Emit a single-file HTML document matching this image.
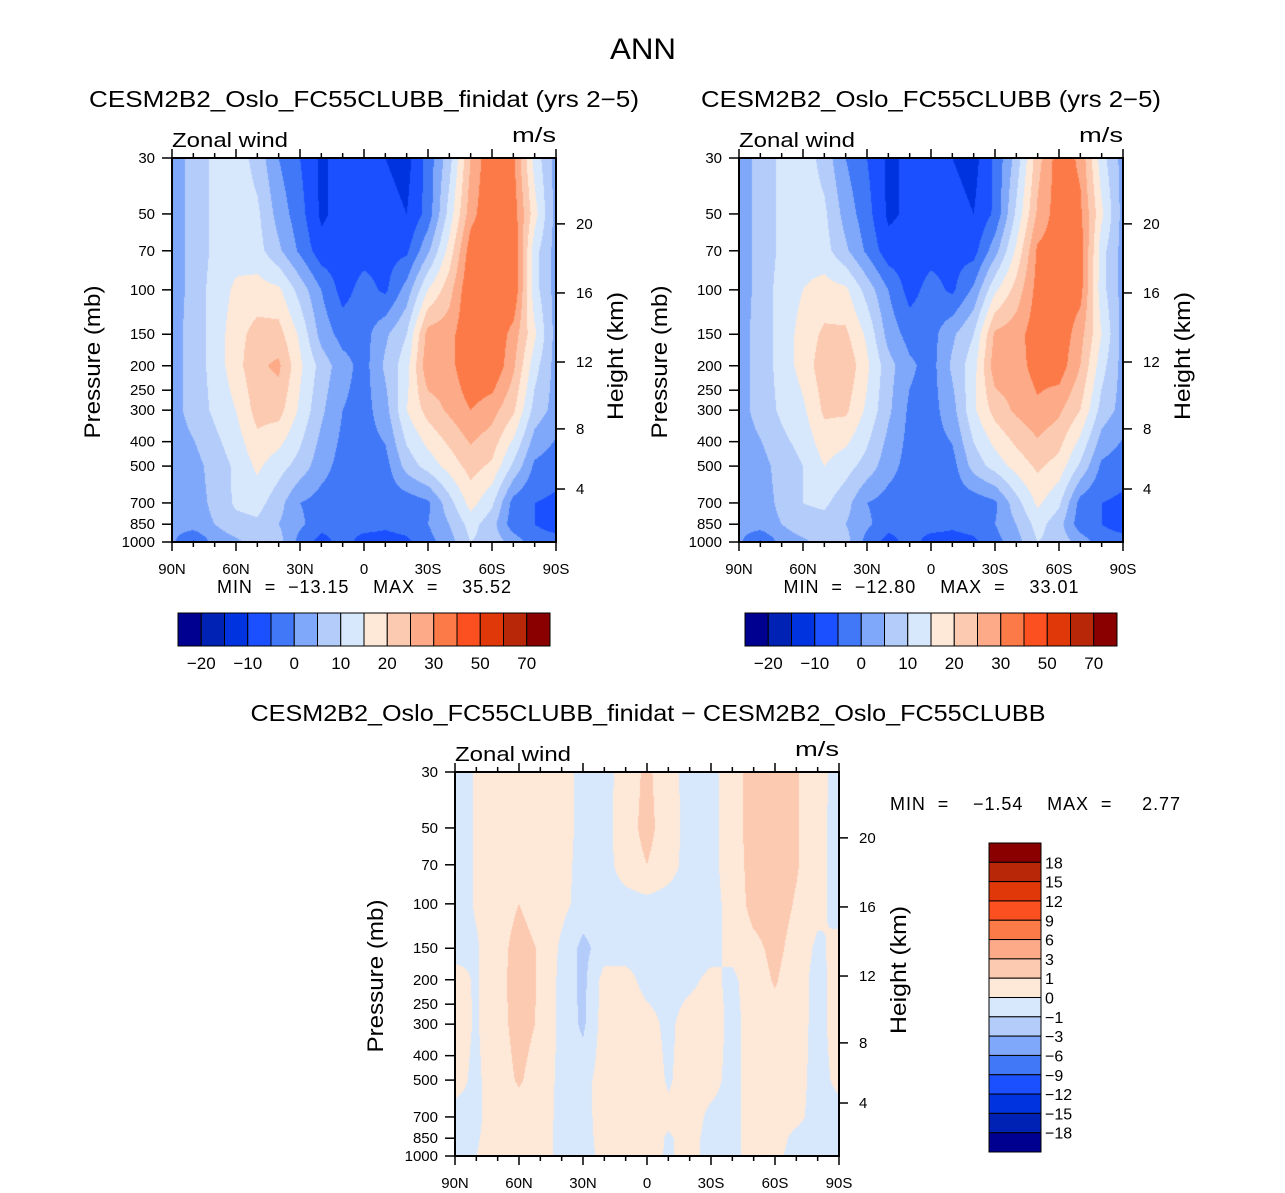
<!DOCTYPE html>
<html><head><meta charset="utf-8">
<style>
body{margin:0;background:#fff;width:1285px;height:1193px;position:relative;overflow:hidden;font-family:"Liberation Sans",sans-serif}
canvas{position:absolute}
svg{position:absolute;left:0;top:0}
text{font-family:"Liberation Sans",sans-serif;fill:#000}
</style></head><body>
<canvas id="c1" width="384" height="384" style="left:172px;top:158px"></canvas>
<canvas id="c2" width="384" height="384" style="left:739px;top:158px"></canvas>
<canvas id="c3" width="384" height="384" style="left:455px;top:772px"></canvas>
<svg id="s" width="1285" height="1193"></svg>
<script>
const pressures=[30,50,70,100,150,200,300,500,700,850,1000];
const latLabels=["90N","60N","30N","0","30S","60S","90S"];
const pLabels=[30,50,70,100,150,200,250,300,400,500,700,850,1000];
const kmLabels=[4,8,12,16,20];
const levelsAbs=[-20,-15,-10,-5,0,5,10,15,20,25,30,40,50,60,70];
const levelsDiff=[-18,-15,-12,-9,-6,-3,-1,0,1,3,6,9,12,15,18];
const colors=['#000090','#0022b4','#0033e0','#1a50ff','#4078f8','#80a8fa','#b4ccfa','#d8e8fc','#fee8d8','#fccab0','#fcaa88','#fc7a48','#fc5020','#e03808','#b82808','#8a0000'];
const gridA=[
[2,7,11,13,8,0,-5,-11,-8,-8,-10,-12,-3,8,25,35,31,13,3],
[2,7,11,13,11,3,-3,-11,-8,-7,-8,-10,-3,12,28,35,33,17,3],
[2,7,11,13,12,6,-1,-8,-8,-7,-7,-6,4,17,33,35,35,12,3],
[2,7,12,16,17,16,8,0,-7,-3,-6,2,15,23,35,35,35,12,3],
[3,7,12,18,22,22,14,3,-2,-2,4,10,27,28,35,35,28,16,3],
[3,7,12,18,24,26,16,8,2,-2,6,13,29,28,35,35,26,12,3],
[3,7,11,15,22,22,14,6,0,-2,3,15,22,26,30,27,21,8,3],
[2,3,7,11,16,12,8,2,-2,-2,-2,7,12,17,22,19,9,-1,-3],
[2,3,6,11,12,7,0,-2,-3,-3,-3,-3,-1,8,17,11,-2,-5,-6],
[2,3,5,8,9,5,1,-3,-4,-3,-4,-3,0,5,12,7,-3,-5,-7],
[1,-6,2,4,7,7,-2,-7,-3,-7,-7,-6,-2,3,10,8,3,-3,-3]];
const gridB=[
[2,7,11,13,8,0,-5,-11,-9,-8,-10,-12,-4,7,23,33,29,12,3],
[2,7,11,13,11,3,-3,-11,-9,-7,-8,-10,-4,11,26,33,31,16,3],
[2,7,11,13,12,6,-1,-8,-8,-7,-7,-7,3,16,31,33,33,12,3],
[2,7,12,15,17,16,8,0,-7,-3,-6,1,14,22,32,34,32,12,3],
[3,7,12,17,21,21,14,3,-2,-2,4,10,26,28,33,34,27,15,3],
[3,7,12,17,23,24,16,7,1,-2,6,13,28,28,32,33,25,12,3],
[3,7,11,14,21,21,14,6,-1,-2,3,14,22,26,29,26,20,8,3],
[2,3,7,10,15,12,8,2,-2,-2,-2,7,12,17,21,18,9,-1,-3],
[2,3,6,10,11,7,0,-2,-3,-3,-3,-3,-1,8,16,11,-2,-5,-6],
[2,3,5,8,8,5,1,-3,-4,-3,-4,-3,0,5,12,7,-3,-5,-7],
[1,-6,2,4,7,7,-2,-7,-3,-7,-7,-6,-2,3,10,8,3,-3,-3]];
const gridD=[
[-0.5,0.1,0.5,0.5,0.5,0.4,-0.3,-0.4,0.5,1.2,0.4,-0.4,-0.3,0.5,1.5,1.6,1.1,0.4,-0.4],
[-0.5,0.1,0.5,0.5,0.5,0.4,-0.3,-0.4,0.6,1.3,0.5,-0.4,-0.3,0.5,1.5,1.6,1.1,0.3,-0.4],
[-0.5,0.1,0.5,0.5,0.5,0.3,-0.3,-0.4,0.5,1.0,0.4,-0.4,-0.3,0.5,1.4,1.5,1.1,0.3,-0.4],
[-0.5,0.1,0.5,1.0,0.5,0.3,-0.4,-0.5,-0.4,-0.3,-0.4,-0.4,-0.3,0.3,1.4,1.5,0.9,0.3,-0.4],
[-0.3,-0.1,0.6,1.4,0.9,-0.2,-1.3,-0.5,-0.4,-0.3,-0.4,-0.4,-0.3,0.3,0.7,1.3,0.6,-0.2,0.3],
[0.3,-0.1,0.7,1.4,0.9,-0.3,-1.3,0.4,0.3,-0.3,-0.3,-0.2,0.2,-0.2,0.5,1.1,0.4,-0.3,0.4],
[0.4,-0.1,0.7,1.3,0.9,-0.3,-1.2,0.5,0.6,0.3,-0.2,0.4,0.5,-0.3,0.4,0.6,0.4,-0.3,0.4],
[0.3,-0.2,0.6,1.1,0.6,-0.3,-0.4,0.5,0.6,0.5,-0.1,0.4,0.3,-0.3,0.4,0.6,0.3,-0.3,0.2],
[-0.3,-0.2,0.5,0.6,0.5,-0.3,-0.4,0.5,0.6,0.4,0.2,0.4,-0.2,-0.3,0.4,0.4,0.2,-0.3,-0.3],
[-0.4,-0.1,0.5,0.6,0.4,-0.3,-0.4,0.4,0.5,0.4,-0.1,0.3,-0.3,-0.3,0.4,0.3,-0.2,-0.4,-0.4],
[-0.4,0.0,0.5,0.5,0.4,-0.3,-0.4,0.3,0.5,0.3,-0.1,0.3,-0.3,-0.3,0.4,0.2,-0.3,-0.4,-0.4]];

const W=384,H=384;
function yOfP(p){return H*Math.log(p/30)/Math.log(1000/30);}
function pOfKm(z){return z<=11?1013.25*Math.pow(1-2.2558e-5*z*1000,5.2559):226.32*Math.exp(-(z-11)*1000/6341.6);}
function hex(c){return [parseInt(c.substr(1,2),16),parseInt(c.substr(3,2),16),parseInt(c.substr(5,2),16)];}
const rgb=colors.map(hex);
function fill(id,grid,levels){
  const cv=document.getElementById(id),ctx=cv.getContext('2d');
  const img=ctx.createImageData(W,H);
  const ry=pressures.map(yOfP);const nc=grid[0].length;
  for(let y=0;y<H;y++){
    let r=0;while(r<ry.length-2&&y+0.5>ry[r+1])r++;
    const fy=Math.min(1,Math.max(0,(y+0.5-ry[r])/(ry[r+1]-ry[r])));
    for(let x=0;x<W;x++){
      const gx=(x+0.5)/W*(nc-1);let c=Math.min(nc-2,Math.floor(gx));const fx=gx-c;
      const v=(grid[r][c]*(1-fx)+grid[r][c+1]*fx)*(1-fy)+(grid[r+1][c]*(1-fx)+grid[r+1][c+1]*fx)*fy;
      let k=0;while(k<levels.length&&v>=levels[k])k++;
      const col=rgb[k],o=(y*W+x)*4;
      img.data[o]=col[0];img.data[o+1]=col[1];img.data[o+2]=col[2];img.data[o+3]=255;
    }
  }
  ctx.putImageData(img,0,0);
}
fill('c1',gridA,levelsAbs);fill('c2',gridB,levelsAbs);fill('c3',gridD,levelsDiff);

const S=document.getElementById('s');const NS='http://www.w3.org/2000/svg';
function el(tag,attrs,txt){const e=document.createElementNS(NS,tag);for(const k in attrs)e.setAttribute(k,attrs[k]);if(txt!==undefined)e.textContent=txt;S.appendChild(e);return e;}
function T(x,y,s,t,anchor,name,extra,len){const a=Object.assign({x:x,y:y,'font-size':s,'text-anchor':anchor||'middle'},extra||{});
if(len){a.textLength=len;a.lengthAdjust='spacing';}
const e=el('text',a,t);


return e;}
function TS(x,y,s,t,anchor,name,extra,len){const e=T(x,y,s,t,anchor,name,extra,len);e.setAttribute('lengthAdjust','spacingAndGlyphs');return e;}
TS(643,59,30,'ANN','middle','main-title',null,66);
function panel(x0,y0,title,tx,ty,tlen,tag){
  TS(tx,ty,23,title,'middle',tag+'-title',null,tlen);
  TS(x0,y0-11,20,'Zonal wind','start',tag+'-variable-label',null,116);
  TS(x0+384,y0-16,20,'m/s','end',tag+'-units-label',null,44);
  const frame=el('rect',{x:x0,y:y0,width:W,height:H,fill:'none',stroke:'#000','stroke-width':2});
  
  
  for(let d=0;d<=180;d+=10){
    const x=x0+d/180*W,len=d%30===0?9:5;
    el('line',{x1:x,y1:y0+H,x2:x,y2:y0+H+len,stroke:'#000','stroke-width':1.5});
    el('line',{x1:x,y1:y0,x2:x,y2:y0-len,stroke:'#000','stroke-width':1.5});
  }
  latLabels.forEach((l,i)=>{T(x0+i*64,y0+H+32,15,l,'middle',tag+'-x-tick-label');});
  pLabels.forEach(p=>{const y=y0+yOfP(p);
    el('line',{x1:x0,y1:y,x2:x0-10,y2:y,stroke:'#000','stroke-width':1.5});
    T(x0-17,y+5,15,String(p),'end',tag+'-y-tick-label');});
  kmLabels.forEach(k=>{const y=y0+yOfP(pOfKm(k));
    el('line',{x1:x0+W,y1:y,x2:x0+W+9,y2:y,stroke:'#000','stroke-width':1.5});
    T(x0+W+20,y+5,15,String(k),'start',tag+'-km-tick-label');});
  TS(0,0,22,'Pressure (mb)','middle',tag+'-y-axis-title',{transform:`translate(${x0-72},${y0+204}) rotate(-90)`},153);
  TS(0,0,22,'Height (km)','middle',tag+'-right-axis-title',{transform:`translate(${x0+W+67},${y0+198}) rotate(-90)`},128);
}
panel(172,158,'CESM2B2_Oslo_FC55CLUBB_finidat (yrs 2\u22125)',364,107,550,'left-panel');
panel(739,158,'CESM2B2_Oslo_FC55CLUBB (yrs 2\u22125)',931,107,460,'right-panel');
panel(455,772,'CESM2B2_Oslo_FC55CLUBB_finidat \u2212 CESM2B2_Oslo_FC55CLUBB',648,721,795,'diff-panel');
T(364,593,18,'MIN  =  \u221213.15    MAX  =    35.52','middle','left-min-max',{style:'white-space:pre'},294);
T(931,593,18,'MIN  =  \u221212.80    MAX  =    33.01','middle','right-min-max',{style:'white-space:pre'},295);
T(890,810,18,'MIN  =    \u22121.54    MAX  =     2.77','start','diff-min-max',{style:'white-space:pre'},290);
const cbLabelsAbs=["\u221220","\u221210","0","10","20","30","50","70"];
function hbar(x0,y0,tag){
  const bw=372/16;
  colors.forEach((c,i)=>{const r=el('rect',{x:x0+i*bw,y:y0,width:bw,height:33,fill:c,stroke:'#000','stroke-width':1});
    
    });
  cbLabelsAbs.forEach((l,i)=>{T(x0+bw*(1+2*i),y0+56,17,l,'middle',tag+'-label');});
}
hbar(178,613,'left-colorbar');hbar(745,613,'right-colorbar');
const cbLabelsDiff=["18","15","12","9","6","3","1","0","\u22121","\u22123","\u22126","\u22129","\u221212","\u221215","\u221218"];
const bh=309/16;
colors.slice().reverse().forEach((c,i)=>{const r=el('rect',{x:989,y:843+i*bh,width:52,height:bh,fill:c,stroke:'#000','stroke-width':1});
  
  });
cbLabelsDiff.forEach((l,i)=>{T(1045,843+bh*(i+1)+6,16,l,'start','diff-colorbar-label');});
</script>
</body></html>
